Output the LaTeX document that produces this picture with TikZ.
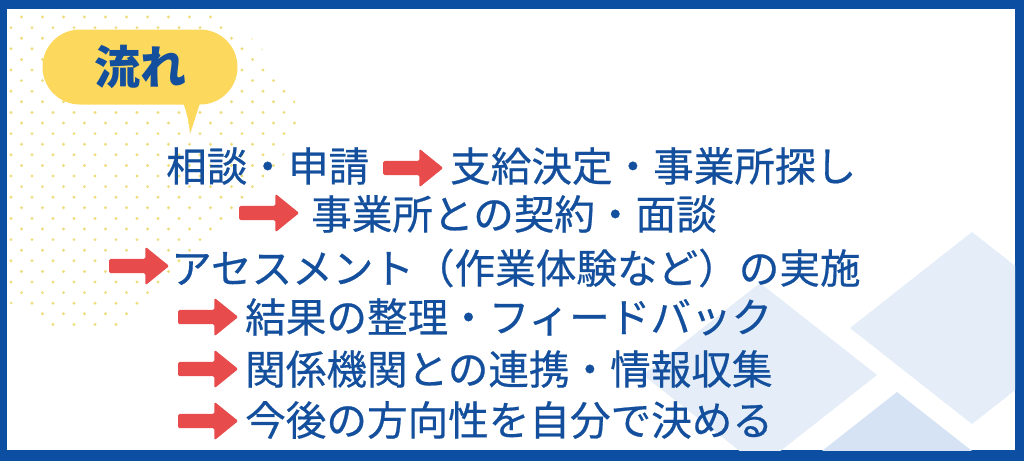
\documentclass[tikz,border=0pt]{standalone}
\usepackage{fontspec}
\newfontfamily\jp{Noto Sans CJK JP}[FakeBold=0.5]
\newfontfamily\jpb{Noto Sans CJK JP}
\usetikzlibrary{shapes.arrows,shapes.misc}
\definecolor{frameblue}{HTML}{0B4EA2}
\definecolor{textblue}{HTML}{134F9C}
\definecolor{arrowred}{HTML}{E84B4B}
\definecolor{bubbleyellow}{HTML}{FCD95C}
\definecolor{dotyellow}{HTML}{EEDD7C}
\definecolor{paleblue}{HTML}{E5EEF8}
\definecolor{midblue}{HTML}{D5E3F4}
\tikzstyle{flow}=[font=\jp\fontsize{40.6}{48}\selectfont, text=textblue, inner sep=0pt, anchor=west]
\tikzstyle{rarrow}=[single arrow, fill=arrowred, minimum height=60pt, minimum width=38pt, single arrow head extend=12pt, single arrow tip angle=78, inner sep=7pt, rounded corners=1.5pt, anchor=west]
\tikzstyle{bubble}=[rounded rectangle, fill=bubbleyellow, minimum width=195pt, minimum height=75pt, inner sep=0pt, font=\jpb\bfseries\fontsize{46}{50}\selectfont, text=textblue]

\begin{document}
\begin{tikzpicture}[x=1pt,y=-1pt]
        \useasboundingbox (0,0) rectangle (1024,461);
        \fill[frameblue] (0,0) rectangle (1024,461);
        \fill[white] (7,9) rectangle (1015,450);
        % diamonds
        \begin{scope}
            \clip (7,9) rectangle (1015,450);
            \fill[paleblue] (850,328) -- (972,232) -- (1094,328) -- (972,424) -- cycle;
            \fill[paleblue] (643,375) -- (760,283) -- (877,375) -- (760,467) -- cycle;
            \fill[midblue] (780,484) -- (897,392) -- (1014,484) -- (897,576) -- cycle;
        \end{scope}
        % dots
        \begin{scope}
            \clip (7,9) -- (205,9) .. controls (260,30) and (300,90) .. (300,128) .. controls (270,190) and (160,290) .. (112,330) .. controls (80,338) and (30,325) .. (7,300) -- cycle;
            \foreach \j in {0,...,31}
                \foreach \i in {0,...,14}
                    \fill[dotyellow] ({21.5+21*\i-10.5*mod(\j,2)},{17+10.6*\j}) circle (1.6pt);
        \end{scope}
        %
        \draw (140,67) node[bubble](title){流れ};
        \fill[bubbleyellow] (182,100) .. controls (186,110) and (189,120) .. (190,134) -- (201,100) -- cycle;
        %
        \draw (166,166) node[flow](consult){相談・申請};
        \draw (383,168) node[rarrow](a1){};
        \draw (450,166) node[flow](decide){支給決定・事業所探し};
        \draw (239,213) node[rarrow](a2){};
        \draw (311,214) node[flow](contract){事業所との契約・面談};
        \draw (109,266) node[rarrow](a3){};
        \draw (171,268) node[flow](assess){アセスメント（作業体験など）の実施};
        \draw (178,317) node[rarrow](a4){};
        \draw (245,317) node[flow](result){結果の整理・フィードバック};
        \draw (178,369) node[rarrow](a5){};
        \draw (245,369) node[flow](link){関係機関との連携・情報収集};
        \draw (178,421) node[rarrow](a6){};
        \draw (245,420) node[flow](future){今後の方向性を自分で決める};
\end{tikzpicture}
\end{document}
